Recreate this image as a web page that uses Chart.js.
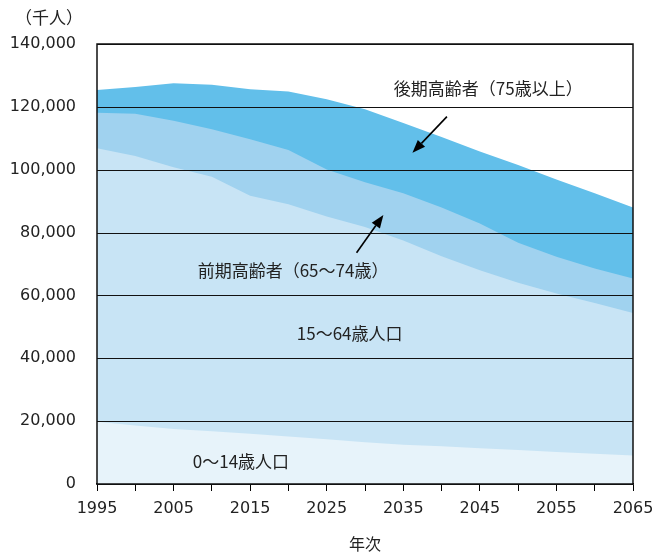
<!DOCTYPE html>
<html lang="ja">
<head>
<meta charset="utf-8">
<style>
  html, body { margin: 0; padding: 0; background: #fff; }
  #wrap { width: 653px; height: 556px; position: relative; }
</style>
</head>
<body>
<div id="wrap"><canvas id="chart"></canvas></div>
<script src="https://cdn.jsdelivr.net/npm/chart.js@4.4.1/dist/chart.umd.min.js"></script>
<script>
// population by age group, thousands
const YEARS = [1995, 2000, 2005, 2010, 2015, 2020, 2025, 2030, 2035, 2040, 2045, 2050, 2055, 2060, 2065];
const AGE_0_14 = [19800, 18600, 17500, 16800, 16000, 15100, 14200, 13300, 12500, 12000, 11400, 10800, 10200, 9600, 9100];
const AGE_15_64 = [87000, 85800, 83300, 81000, 75700, 73900, 70900, 68500, 65000, 60500, 56600, 53200, 50400, 48000, 45300];
const AGE_65_74 = [11300, 13400, 14800, 15100, 18000, 17300, 15000, 14200, 15000, 15500, 14900, 12800, 11700, 11000, 11000];
const AGE_75_UP = [7300, 8500, 11900, 14100, 15900, 18600, 22300, 23200, 22400, 22400, 22900, 24700, 24600, 23900, 22600];

const Y_TICKS = [0, 20000, 40000, 60000, 80000, 100000, 120000, 140000];

const SERIES = [
    { label: '0～14歳人口', values: AGE_0_14, color: '#e7f3fa' },
    { label: '15～64歳人口', values: AGE_15_64, color: '#c8e4f5' },
    { label: '前期高齢者（65～74歳）', values: AGE_65_74, color: '#a0d2ef' },
    { label: '後期高齢者（75歳以上）', values: AGE_75_UP, color: '#62bfea' },
];

// label / arrow anchors in data space (year, thousands)
const LABELS = [
    { text: '後期高齢者（75歳以上）', x: 2046.1, y: 125700 },
    { text: '前期高齢者（65～74歳）', x: 2020.6, y: 67800 },
    { text: '15～64歳人口', x: 2028.0, y: 48000 },
    { text: '0～14歳人口', x: 2013.8, y: 7000 },
];
const ARROWS = [
    { from: [2040.7, 116900], to: [2036.2, 105400] },
    { from: [2028.9, 73600], to: [2032.4, 85600] },
];

const JP_FONT = '"Noto Sans CJK JP", "Noto Sans", sans-serif';
const NUM_FONT = '"DejaVu Sans", Verdana, sans-serif';
const INK = '#222';

const overlay = {
    id: 'overlay',
    afterDatasetsDraw(chart) {
        const { ctx, chartArea: a, scales: { x, y } } = chart;
        ctx.save();

        // grid lines sit on top of the areas
        ctx.strokeStyle = '#111';
        ctx.lineWidth = 1.2;
        Y_TICKS.forEach((v) => {
            const py = Math.round(y.getPixelForValue(v)) + 0.5;
            ctx.beginPath();
            ctx.moveTo(a.left, py);
            ctx.lineTo(a.right, py);
            ctx.stroke();
        });
        ctx.lineWidth = 1.5;
        ctx.strokeRect(a.left, a.top, a.right - a.left, a.bottom - a.top);

        ctx.fillStyle = INK;
        ctx.font = '17px ' + JP_FONT;
        ctx.textAlign = 'center';
        ctx.textBaseline = 'middle';
        LABELS.forEach((l) => {
            ctx.fillText(l.text, x.getPixelForValue(l.x), y.getPixelForValue(l.y));
        });

        ctx.strokeStyle = '#000';
        ctx.fillStyle = '#000';
        ctx.lineWidth = 1.6;
        ARROWS.forEach((ar) => {
            const x0 = x.getPixelForValue(ar.from[0]), y0 = y.getPixelForValue(ar.from[1]);
            const x1 = x.getPixelForValue(ar.to[0]), y1 = y.getPixelForValue(ar.to[1]);
            const ang = Math.atan2(y1 - y0, x1 - x0);
            const len = 13, half = 5;
            const bx = x1 - len * Math.cos(ang), by = y1 - len * Math.sin(ang);
            ctx.beginPath();
            ctx.moveTo(x0, y0);
            ctx.lineTo(bx, by);
            ctx.stroke();
            ctx.beginPath();
            ctx.moveTo(x1, y1);
            ctx.lineTo(bx + half * Math.sin(ang), by - half * Math.cos(ang));
            ctx.lineTo(bx - half * Math.sin(ang), by + half * Math.cos(ang));
            ctx.closePath();
            ctx.fill();
        });

        // unit label
        ctx.fillStyle = INK;
        ctx.font = '17px ' + JP_FONT;
        ctx.fillText('（千人）', 49, 18);
        ctx.restore();
    },
};

new Chart(document.getElementById('chart'), {
    type: 'line',
    data: {
        datasets: SERIES.map((s) => ({
            label: s.label,
            data: YEARS.map((yr, i) => ({ x: yr, y: s.values[i] })),
            backgroundColor: s.color,
            borderWidth: 0,
            pointRadius: 0,
            tension: 0,
            fill: 'origin',
        })),
    },
    options: {
        responsive: true,
        maintainAspectRatio: false,
        devicePixelRatio: 1,
        animation: false,
        layout: { padding: { left: 0, right: 20, top: 44, bottom: 0 } },
        plugins: { legend: { display: false }, tooltip: { enabled: false } },
        scales: {
            x: {
                type: 'linear',
                min: 1995,
                max: 2065,
                afterFit: (s) => {
                    s.height = 72;
                    s.paddingLeft = 0;
                    s.paddingRight = 0;
                },
                grid: { drawOnChartArea: false, tickLength: 7, color: '#000', lineWidth: 1 },
                border: { display: true, color: '#000', width: 1.5 },
                ticks: {
                    stepSize: 5,
                    autoSkip: false,
                    maxRotation: 0,
                    padding: 8,
                    color: INK,
                    font: { family: NUM_FONT, size: 16 },
                    callback: (v) => (v % 10 === 5 ? String(v) : ''),
                },
                title: {
                    display: true,
                    text: '年次',
                    color: INK,
                    font: { family: JP_FONT, size: 16 },
                    padding: { top: 0, bottom: 2 },
                },
            },
            y: {
                stacked: true,
                min: 0,
                max: 140000,
                afterFit: (s) => {
                    s.width = 97;
                    s.paddingTop = 0;
                    s.paddingBottom = 0;
                },
                grid: { display: false, drawTicks: false },
                border: { display: false },
                ticks: {
                    stepSize: 20000,
                    padding: 21,
                    color: INK,
                    font: { family: NUM_FONT, size: 16 },
                    callback: (v) => v.toLocaleString('en-US'),
                },
            },
        },
    },
    plugins: [overlay],
});
</script>
</body>
</html>
